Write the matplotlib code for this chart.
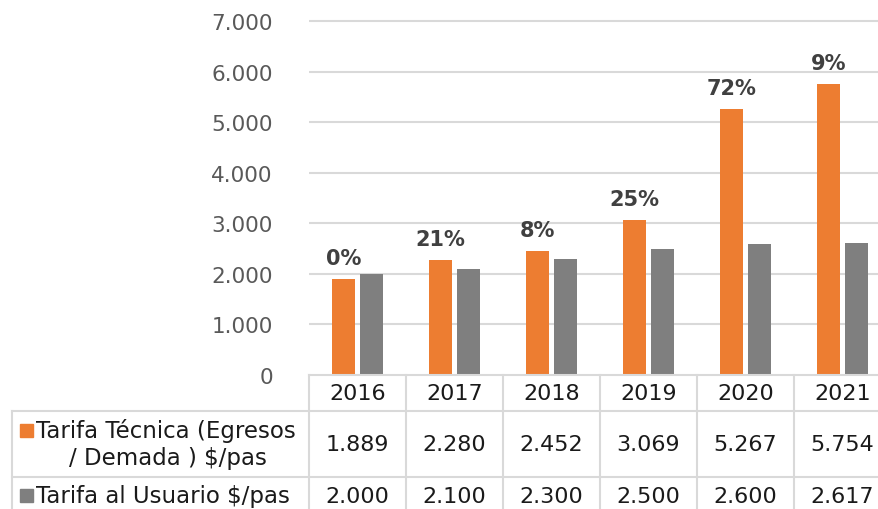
import numpy as np
import matplotlib.pyplot as plt
from matplotlib.patches import Rectangle

anios = ['2016', '2017', '2018', '2019', '2020', '2021']
tarifa_tecnica = [1889, 2280, 2452, 3069, 5267, 5754]
tarifa_usuario = [2000, 2100, 2300, 2500, 2600, 2617]
variacion = ['0%', '21%', '8%', '25%', '72%', '9%']
serie_1 = ['Tarifa Técnica (Egresos', '/ Demada ) $/pas']
serie_2 = 'Tarifa al Usuario $/pas'

naranja = '#ED7D31'
gris = '#7F7F7F'
linea = '#D9D9D9'
plt.rcParams['font.family'] = ['DejaVu Sans']


def miles(v):
    return f'{v:,.0f}'.replace(',', '.')


W, H = 879, 510
fig = plt.figure(figsize=(W / 100, H / 100), dpi=100)

# area del grafico en pixeles: x 309..891, y 22..376
x0, x1, y0, y1 = 309, 309 + 6 * 97, 22, 376
ax = fig.add_axes([x0 / W, (H - y1) / H, (x1 - x0) / W, (y1 - y0) / H])
x = np.arange(len(anios))
ancho = 0.235
ax.bar(x - 0.145, tarifa_tecnica, ancho, color=naranja, zorder=3)
ax.bar(x + 0.145, tarifa_usuario, ancho, color=gris, zorder=3)
for xi, v, t in zip(x, tarifa_tecnica, variacion):
    ax.annotate(t, (xi - 0.145, v), xytext=(0, 8), textcoords='offset points',
                ha='center', va='bottom', fontsize=15, fontweight='bold',
                color='#404040')
ax.set_xlim(-0.5, len(anios) - 0.5)
ax.set_ylim(0, 7000)
ticks = list(range(1000, 7001, 1000))
ax.hlines(ticks, -0.5, len(anios) - 0.5, color=linea, lw=1.5, zorder=0, clip_on=False)
ax.set_yticks([0] + ticks)
ax.set_yticklabels([miles(v) for v in [0] + ticks], fontsize=15.5, color='#595959')
ax.set_xticks([])
ax.tick_params(axis='y', length=0, pad=26)
for s in ax.spines.values():
    s.set_visible(False)

# tabla de datos
tb = fig.add_axes([0, 0, 1, 1])
tb.set_xlim(0, W)
tb.set_ylim(H, 0)
tb.axis('off')
tb.patch.set_alpha(0)

tb.plot([x0, W], [y1, y1], color=linea, lw=1.5)
tb.plot([12, W], [412, 412], color=linea, lw=1.5)
tb.plot([12, W], [478, 478], color=linea, lw=1.5)
tb.plot([12, 12], [412, H], color=linea, lw=1.5)
for i in range(len(anios) + 1):
    tb.plot([x0 + 97 * i, x0 + 97 * i], [y1, H], color=linea, lw=1.5)

for i, a in enumerate(anios):
    cx = x0 + 97 * i + 48.5
    tb.text(cx, 394, a, ha='center', va='center', fontsize=16, color='#1a1a1a')
    tb.text(cx, 445, miles(tarifa_tecnica[i]), ha='center', va='center', fontsize=16, color='#1a1a1a')
    tb.text(cx, 497, miles(tarifa_usuario[i]), ha='center', va='center', fontsize=16, color='#1a1a1a')

tb.add_patch(Rectangle((20, 425), 13, 13, color=naranja))
tb.text(36, 431, serie_1[0], ha='left', va='center', fontsize=16.5, color='#1a1a1a')
tb.text(168, 459, serie_1[1], ha='center', va='center', fontsize=16.5, color='#1a1a1a')
tb.add_patch(Rectangle((20, 490), 13, 13, color=gris))
tb.text(36, 497, serie_2, ha='left', va='center', fontsize=16.5, color='#1a1a1a')

fig.savefig('out.png', dpi=100)
